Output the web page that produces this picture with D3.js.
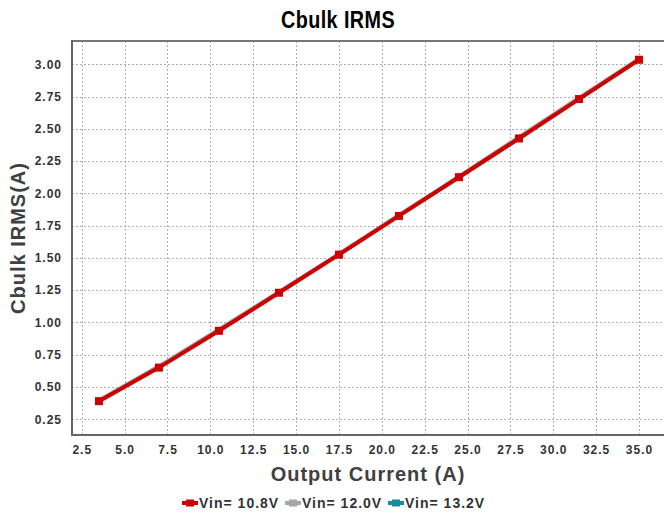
<!DOCTYPE html>
<html><head><meta charset="utf-8">
<script src="https://cdn.jsdelivr.net/npm/d3@7"></script>
<style>
body{margin:0;background:#fff;}
text{font-family:"Liberation Sans",Arial,sans-serif;font-weight:bold;}
</style></head>
<body><svg id="c" width="664" height="516"></svg>
<script>
const current = [3.5, 7.0, 10.5, 14.0, 17.5, 21.0, 24.5, 28.0, 31.5, 35.0];
const vin108 = [0.39, 0.65, 0.935, 1.23, 1.525, 1.825, 2.125, 2.425, 2.73, 3.035];
const vin120 = [0.40, 0.665, 0.95, 1.24, 1.535, 1.835, 2.135, 2.44, 2.745, 3.045];
const vin132 = [0.398, 0.66, 0.945, 1.237, 1.532, 1.832, 2.132, 2.435, 2.74, 3.04];
const seriesNames = ["Vin= 10.8V", "Vin= 12.0V", "Vin= 13.2V"];
const seriesColors = ["#cc0000", "#a6a6a6", "#1a8c99"];
const xTicks = [2.5,5,7.5,10,12.5,15,17.5,20,22.5,25,27.5,30,32.5,35];
const yTicks = [0.25,0.5,0.75,1.0,1.25,1.5,1.75,2.0,2.25,2.5,2.75,3.0];

const svg = d3.select("#c");
const L=72, R=664, T=41, B=435;
const x = d3.scaleLinear().domain([1.93, 36.46]).range([L, R]);
const y = d3.scaleLinear().domain([0.128, 3.18]).range([B, T]);

// grid
const g = svg.append("g");
g.selectAll(".vg").data(xTicks).enter().append("line")
  .attr("x1", d=>Math.round(x(d))+0.5).attr("x2", d=>Math.round(x(d))+0.5)
  .attr("y1", T).attr("y2", B).attr("stroke","#b0b0b0").attr("stroke-dasharray","2,2");
g.selectAll(".hg").data(yTicks).enter().append("line")
  .attr("y1", d=>Math.round(y(d))+0.5).attr("y2", d=>Math.round(y(d))+0.5)
  .attr("x1", L).attr("x2", R).attr("stroke","#b0b0b0").attr("stroke-dasharray","2,2");

// frame
svg.append("line").attr("x1",L).attr("x2",R).attr("y1",T).attr("y2",T).attr("stroke","#777").attr("stroke-width",2);
svg.append("line").attr("x1",L).attr("x2",L).attr("y1",T-1).attr("y2",B+1).attr("stroke","#666").attr("stroke-width",2);
svg.append("line").attr("x1",L).attr("x2",R).attr("y1",B).attr("y2",B).attr("stroke","#666").attr("stroke-width",2);

// tick labels via axes
const xAxis = d3.axisBottom(x).tickValues(xTicks).tickFormat(d3.format(".1f")).tickSize(0).tickPadding(10);
const xa = svg.append("g").attr("transform",`translate(0,${B})`).call(xAxis);
xa.select(".domain").remove();
xa.selectAll("text").attr("font-size","12px").attr("fill","#333").style("letter-spacing","1px")
  .attr("font-family","Liberation Sans, Arial, sans-serif");
const yAxis = d3.axisLeft(y).tickValues(yTicks).tickFormat(d3.format(".2f")).tickSize(0).tickPadding(10);
const ya = svg.append("g").attr("transform",`translate(${L},0)`).call(yAxis);
ya.select(".domain").remove();
ya.selectAll("text").attr("font-size","12px").attr("fill","#333").style("letter-spacing","1px")
  .attr("font-family","Liberation Sans, Arial, sans-serif");

// lines
const data = [vin132, vin120, vin108];
const colors = [seriesColors[2], seriesColors[1], seriesColors[0]];
const line = d3.line().x((d,i)=>x(current[i])).y(d=>y(d));
data.forEach((s,k)=>{
  svg.append("path").datum(s).attr("d",line).attr("fill","none")
    .attr("stroke",colors[k]).attr("stroke-width",k===2?4:3);
});
svg.selectAll(".mk").data(vin108).enter().append("rect")
  .attr("x",(d,i)=>x(current[i])-4).attr("y",d=>y(d)-4).attr("width",8).attr("height",8)
  .attr("fill",seriesColors[0]);

// titles
svg.append("text").attr("transform","translate(338,28) scale(0.86,1)").attr("text-anchor","middle")
  .attr("font-size","23px").attr("fill","#000").style("letter-spacing","0.5px").text("Cbulk IRMS");
svg.append("text").attr("x",(L+R)/2).attr("y",481).attr("text-anchor","middle")
  .attr("font-size","20px").attr("fill","#404040").style("letter-spacing","1px").text("Output Current (A)");
svg.append("text").attr("transform",`translate(25,${(T+B)/2}) rotate(-90)`).attr("text-anchor","middle")
  .attr("font-size","20px").attr("fill","#404040").style("letter-spacing","1px").text("Cbulk IRMS(A)");

// legend
const lx = [182, 285, 388];
seriesNames.forEach((n,i)=>{
  const lg = svg.append("g").attr("transform",`translate(${lx[i]},503)`);
  lg.append("line").attr("x1",0).attr("x2",16).attr("y1",0).attr("y2",0).attr("stroke",seriesColors[i]).attr("stroke-width",4);
  lg.append("rect").attr("x",4).attr("y",-3.5).attr("width",8).attr("height",7).attr("fill",seriesColors[i]);
  lg.append("text").attr("x",17).attr("y",5).attr("font-size","14px").attr("fill","#333")
    .style("letter-spacing","1px").text(n);
});
</script></body></html>
